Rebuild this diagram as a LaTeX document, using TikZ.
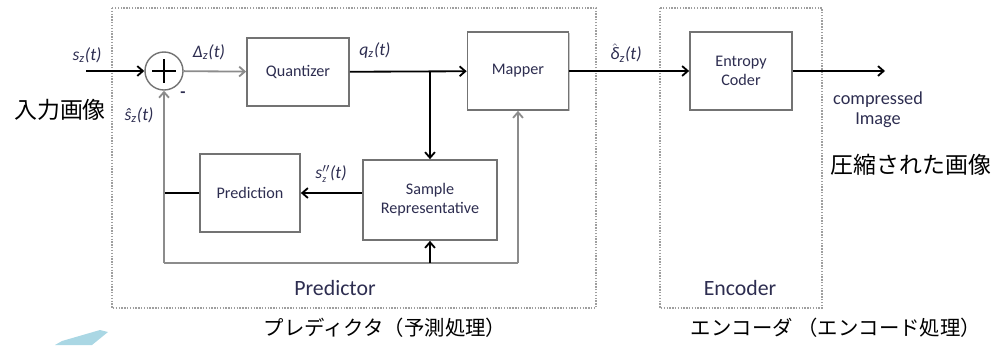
\documentclass[tikz,border=0pt]{standalone}
\usepackage{fontspec}
\setmainfont{Carlito}
\newfontfamily\jp{Noto Sans CJK JP}
\usetikzlibrary{arrows.meta,shadows}
\definecolor{boxgray}{RGB}{115,115,115}
\definecolor{wiregray}{RGB}{140,140,140}
\definecolor{txtcol}{RGB}{45,45,80}
\definecolor{paleblue}{RGB}{170,215,228}
\newcommand{\sig}[1]{#1\textsubscript{\itshape z}(t)}

\begin{document}
\begin{tikzpicture}[x=0.025cm, y=-0.025cm, >={Straight Barb[length=4pt,width=7pt]},
  blk/.style={draw=boxgray, line width=1.2pt, fill=white, text=txtcol, align=center,
    font=\fontsize{11.5}{13.5}\selectfont,
    drop shadow={shadow xshift=0.8pt, shadow yshift=-0.8pt, fill=black!22, opacity=1}},
  wire/.style={line width=1.3pt},
  gwire/.style={line width=1.3pt, draw=wiregray},
  lbl/.style={text=txtcol, font=\itshape\fontsize{12.5}{14}\selectfont},
  big/.style={text=txtcol, font=\fontsize{15.5}{17}\selectfont},
  jptxt/.style={font=\jp\fontsize{16.3}{18}\selectfont},
  jpsmall/.style={font=\jp\fontsize{14.5}{16}\selectfont},
  frame/.style={draw=gray!75, line width=1pt, densely dotted}]
  \useasboundingbox (0,0) rectangle (992,345);
  \fill[paleblue] (55,345) -- (62,341) -- (100,330) -- (108,332) -- (92,345) -- cycle;
  \draw[frame] (112,8) rectangle (596,308);
  \draw[frame] (660,8) rectangle (822,308);

  \node[circle, draw=boxgray, line width=1pt, minimum size=0.95cm] (sum) at (164,71) {};
  \draw[line width=1.8pt] (sum.center) ++(-12,0) -- ++(24,0) (sum.center) ++(0,-12) -- ++(0,24);
  \node[blk, minimum width=2.55cm, minimum height=1.7cm] (quant) at (298,72) {Quantizer};
  \node[blk, minimum width=2.525cm, minimum height=1.95cm] (map) at (518,71) {Mapper};
  \node[blk, minimum width=2.55cm, minimum height=1.95cm] (ent) at (741,71) {Entropy\\Coder};
  \node[blk, minimum width=3.35cm, minimum height=2cm] (samp) at (430,200) {Sample\\Representative};
  \node[blk, minimum width=2.5cm, minimum height=1.95cm] (pred) at (250,193) {Prediction};

  \coordinate (in) at (86,71);
  \coordinate (out) at (885,71);
  \coordinate (jn) at (samp.north |- quant.east);
  \coordinate (bl) at (sum.south |- 0,263);
  \coordinate (br) at (map.south |- bl);

  \draw[wire,->] (in) -- (sum);
  \draw[gwire,->] (sum) -- (quant);
  \draw[wire,->] (quant) -- (map);
  \draw[wire,->] (jn) -- (samp);
  \draw[wire,->] (samp.west |- pred) -- (pred);
  \draw[wire] (pred) -- (pred -| bl);
  \draw[gwire,->] (bl) -- (sum);
  \draw[gwire] (bl) -- (br);
  \draw[gwire,->] (br) -- (map);
  \draw[wire,->] (samp |- bl) -- (samp);
  \draw[wire,->] (map) -- (ent);
  \draw[wire,->] (ent) -- (out);

  \node[lbl] (sin) at (87,55) {\sig{s}};
  \node[lbl] (shat) at (139,115) {\sig{ŝ}};
  \node[lbl, font=\bfseries\fontsize{12}{12}\selectfont] (minus) at (183,95) {-};
  \node[lbl] (dlt) at (209,52) {\sig{Δ}};
  \node[lbl] (qz) at (375,50) {\sig{q}};
  \node[lbl] (spp) at (331,174) {$\mbox{\itshape s}''_{\mbox{\scriptsize\itshape z}}$(t)};
  \node[lbl] (dhat) at (626,53) {\sig{$\hat{\mbox{\itshape δ}}$}};
  \node[text=txtcol, align=center, font=\fontsize{13}{14}\selectfont] (comp) at (878,110) {compressed\\Image};
  \node[big] (plab) at (335,288) {Predictor};
  \node[big] (elab) at (740,288) {Encoder};

  \node[jptxt] (jin) at (60,110) {入力画像};
  \node[jptxt] (jout) at (911,165) {圧縮された画像};
  \node[jpsmall] (jpred) at (385,328) {プレディクタ（予測処理）};
  \node[jpsmall] (jenc) at (836,328) {エンコーダ （エンコード処理）};
\end{tikzpicture}
\end{document}
